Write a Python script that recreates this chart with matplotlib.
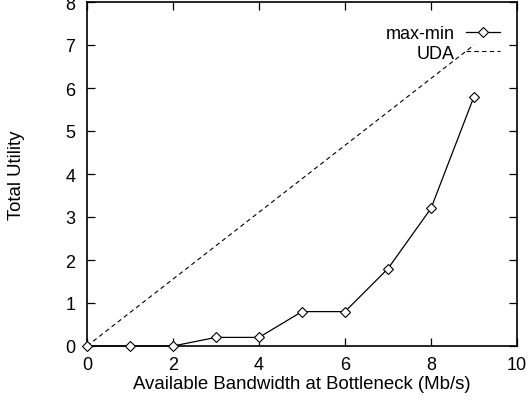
import matplotlib
matplotlib.use("Agg")
import matplotlib.pyplot as plt

plt.rcParams['font.family'] = ['Liberation Sans', 'DejaVu Sans']

bandwidth = [0, 1, 2, 3, 4, 5, 6, 7, 8, 9]
maxmin = [0, 0, 0, 0.2, 0.2, 0.8, 0.8, 1.8, 3.2, 5.8]
uda_x = [0, 9]
uda_y = [0, 7]
xticks = [0, 2, 4, 6, 8, 10]
yticks = [0, 1, 2, 3, 4, 5, 6, 7, 8]

fig = plt.figure(figsize=(5.31, 4.02), dpi=100)
ax = fig.add_axes([87/531, 55/402, 430/531, 344/402])

ax.plot(bandwidth, maxmin, color='black', lw=0.9, marker='D', markersize=5,
        markerfacecolor='white', markeredgecolor='black', markeredgewidth=0.8,
        label='max-min', clip_on=False, zorder=3)
ax.plot(uda_x, uda_y, color='black', lw=0.8, ls=(0, (4, 3)), label='UDA')

ax.set_xlim(0, 10)
ax.set_ylim(0, 8)
ax.set_xticks(xticks)
ax.set_yticks(yticks)
ax.tick_params(direction='in', top=True, right=True, length=6, width=0.9, labelsize=13)
ax.tick_params(axis='x', pad=7.5)
ax.tick_params(axis='y', pad=8.5)
for s in ax.spines.values():
    s.set_linewidth(1.2)

ax.set_xlabel('Available Bandwidth at Bottleneck (Mb/s)', fontsize=13.4, labelpad=1.5)
ax.set_ylabel('Total Utility', fontsize=13.4, labelpad=29)

leg = ax.legend(loc='upper right', frameon=False, markerfirst=False, fontsize=13,
                handlelength=1.9, borderaxespad=0.3, labelspacing=0.15, handletextpad=0.6,
                bbox_to_anchor=(0.99, 0.97))
for t in leg.get_texts():
    t.set_ha('right')

fig.savefig('out.png', dpi=100)
